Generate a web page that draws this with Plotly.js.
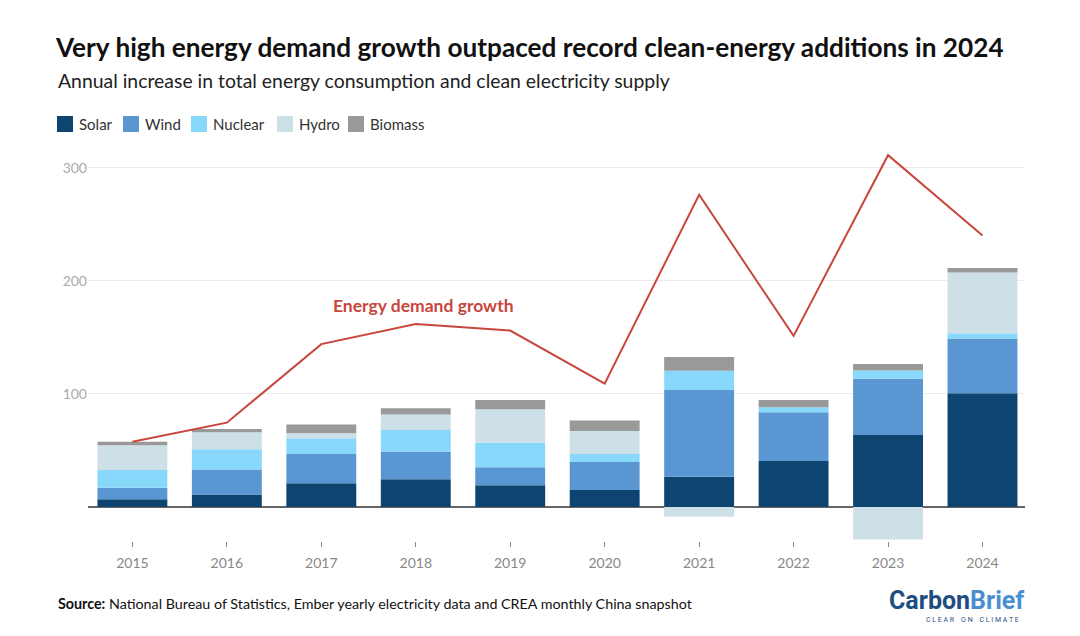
<!DOCTYPE html>
<html>
<head>
<meta charset="utf-8">
<script src="https://cdn.plot.ly/plotly-3.0.1.min.js"></script>
<style>html,body{margin:0;padding:0;background:#fff;}#chart{width:1080px;height:636px;}</style>
</head>
<body>
<div id="chart"></div>
<script>
const years = ['2015','2016','2017','2018','2019','2020','2021','2022','2023','2024'];
const solar   = [6.8, 11.2, 21.0, 24.5, 19.2, 15.0, 26.8, 40.7, 63.7, 100.6];
const wind    = [10.3, 22.1, 25.9, 24.5, 15.9, 24.8, 76.7, 43.1, 49.8, 48.3];
const nuclear = [15.6, 17.7, 13.9, 19.1, 21.8, 7.1, 16.9, 4.4, 7.1, 4.8];
const hydro   = [21.9, 15.1, 4.4, 13.6, 29.6, 20.4, -8.6, 0, -28.6, 53.6];
const biomass = [3.2, 2.9, 7.7, 5.6, 8.2, 9.1, 12.3, 6.5, 5.9, 3.9];
const demand  = [57.8, 74.6, 144.0, 161.7, 156.0, 109.0, 276.0, 151.3, 311.0, 240.0];
const yTicks = [100, 200, 300];
const seriesNames = ['Solar', 'Wind', 'Nuclear', 'Hydro', 'Biomass'];
const seriesColors = ['#0e4470', '#5a96d2', '#88d8fb', '#cde0e8', '#999999'];
const seriesValues = [solar, wind, nuclear, hydro, biomass];

// pixel -> paper helpers (plot area: x 88..1025, y 145..541)
const L = 88, W = 937, B = 541, H = 396;
const px = v => (v - L) / W;
const py = v => (B - v) / H;

const traces = seriesNames.map((n, i) => ({
  type: 'bar', name: n, x: years, y: seriesValues[i],
  marker: {color: seriesColors[i], line: {width: 0}},
  showlegend: false, hoverinfo: 'skip'
}));
traces.push({
  type: 'scatter', mode: 'lines', name: 'Energy demand growth',
  x: years, y: demand, showlegend: false,
  line: {color: '#c9463d', width: 2}, hoverinfo: 'skip'
});

// manual legend (square swatches + labels)
const legendX = [57, 123, 191, 277, 348];
const shapes = seriesNames.map((n, i) => ({
  type: 'rect', xref: 'paper', yref: 'paper', layer: 'above',
  x0: px(legendX[i]), x1: px(legendX[i] + 16), y0: py(132), y1: py(116),
  fillcolor: seriesColors[i], line: {width: 0}
}));
const legendAnn = seriesNames.map((n, i) => ({
  text: n, xref: 'paper', yref: 'paper', x: px(legendX[i] + 20), y: py(124),
  xanchor: 'left', yanchor: 'middle', showarrow: false,
  font: {size: 15, color: '#333'}
}));

const layout = {
  width: 1080, height: 636,
  paper_bgcolor: '#ffffff', plot_bgcolor: '#ffffff',
  margin: {l: 88, r: 55, t: 145, b: 95},
  barmode: 'relative', bargap: 0.26,
  font: {family: 'Lato, "Noto Sans", sans-serif', color: '#333'},
  title: {
    text: '<b>Very high energy demand growth outpaced record clean-energy additions in 2024</b>',
    font: {family: 'Lato, "Noto Sans", sans-serif', size: 26.2, color: '#111'},
    x: 56/1080, xanchor: 'left', xref: 'container',
    y: 1 - 48/636, yanchor: 'middle', yref: 'container'
  },
  showlegend: false,
  xaxis: {
    type: 'category', range: [-0.47, 9.45],
    showgrid: false, zeroline: false, showline: false,
    ticks: 'outside', ticklen: 5, tickwidth: 1, tickcolor: '#888',
    ticklabelstandoff: 4,
    tickfont: {size: 14, color: '#888'}, fixedrange: true
  },
  yaxis: {
    range: [-30, 320], tickvals: yTicks, ticktext: yTicks.map(String),
    showgrid: true, gridcolor: '#ebebeb', gridwidth: 1,
    zeroline: true, zerolinecolor: '#666', zerolinewidth: 2,
    showline: false, ticks: '',
    tickfont: {size: 14, color: '#aaa'}, fixedrange: true
  },
  shapes: shapes,
  annotations: legendAnn.concat([
    {text: 'Annual increase in total energy consumption and clean electricity supply',
     xref: 'paper', yref: 'paper', x: px(56), y: py(80), xanchor: 'left', yanchor: 'middle',
     showarrow: false, font: {size: 19.4, color: '#222'}},
    {text: '<b>Energy demand growth</b>',
     xref: 'paper', yref: 'paper', x: px(423), y: py(305), xanchor: 'center', yanchor: 'middle',
     showarrow: false, font: {size: 17.5, color: '#c9463d'}},
    {text: '<b>Source:</b> National Bureau of Statistics, Ember yearly electricity data and CREA monthly China snapshot',
     xref: 'paper', yref: 'paper', x: px(56), y: py(603), xanchor: 'left', yanchor: 'middle',
     showarrow: false, font: {size: 14.3, color: '#111'}},
    {text: '<b>Carbon<span style="color:#4a8fd0">Brief</span></b>',
     xref: 'paper', yref: 'paper', x: px(1026), y: py(600), xanchor: 'right', yanchor: 'middle',
     showarrow: false, font: {family: 'Roboto, sans-serif', size: 25, color: '#1d4e80'}},
    {text: 'C L E A R    O N    C L I M A T E',
     xref: 'paper', yref: 'paper', x: px(1021), y: py(620), xanchor: 'right', yanchor: 'middle',
     showarrow: false, font: {family: 'Roboto, sans-serif', size: 7, color: '#1d4e80'}}
  ])
};

Plotly.newPlot('chart', traces, layout, {displayModeBar: false, staticPlot: true});
</script>
</body>
</html>
